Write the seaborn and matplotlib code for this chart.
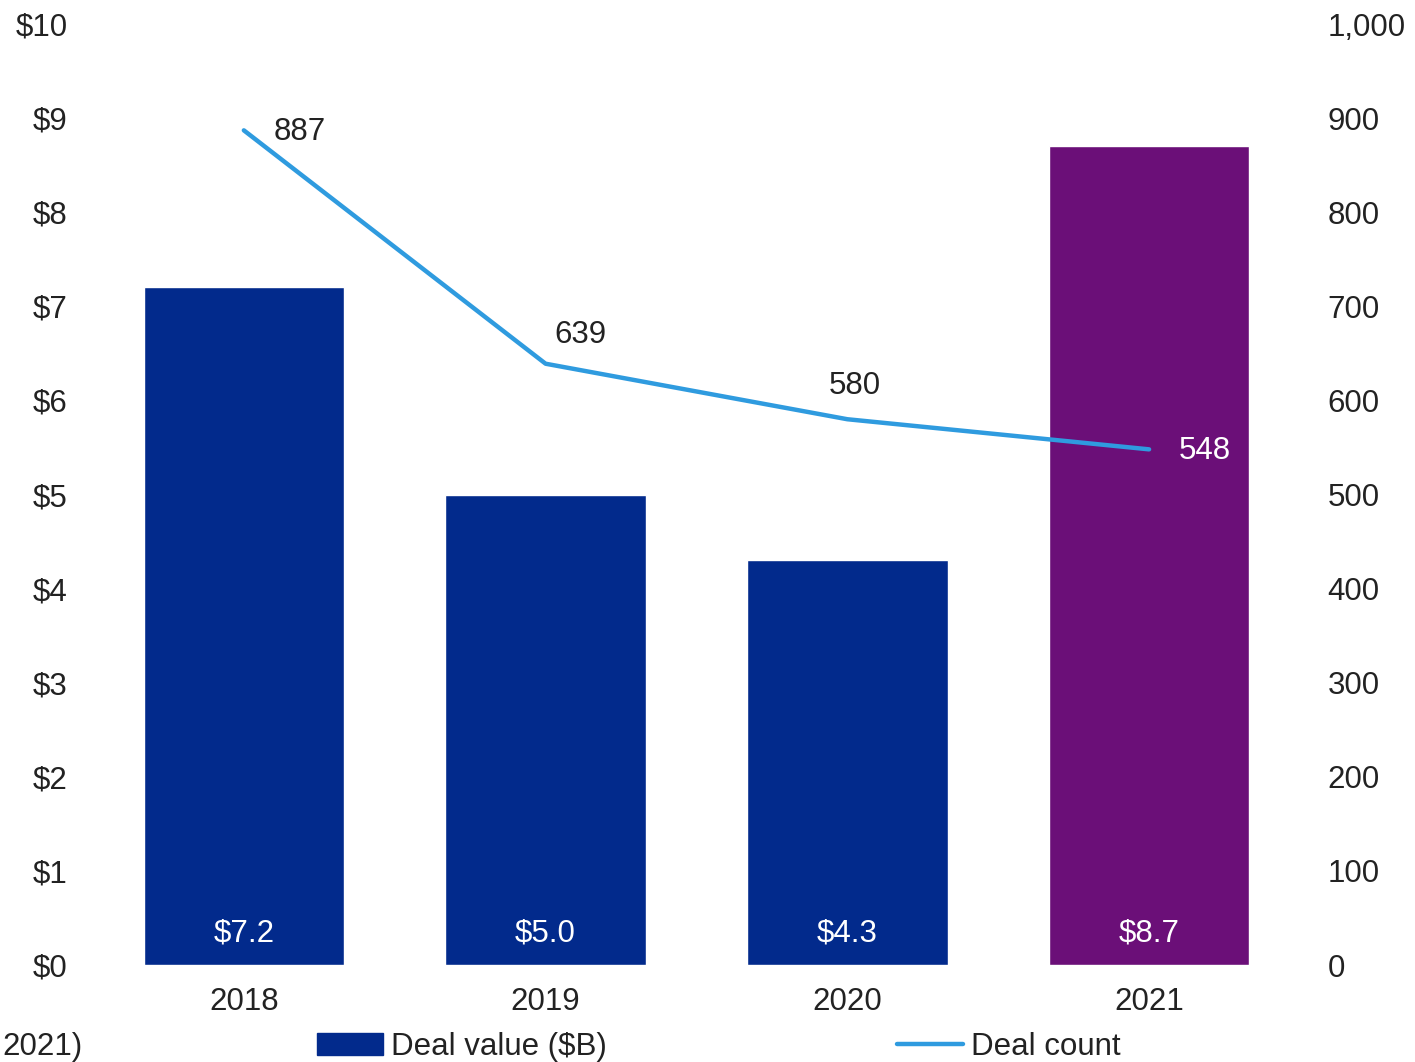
import matplotlib
matplotlib.use("Agg")
import matplotlib.pyplot as plt
import seaborn as sns
import pandas as pd
from matplotlib.patches import Patch
from matplotlib.lines import Line2D

years = ["2018", "2019", "2020", "2021"]
deal_value = [7.2, 5.0, 4.3, 8.7]
deal_count = [887, 639, 580, 548]
value_labels = ["$7.2", "$5.0", "$4.3", "$8.7"]
left_ticks = [0, 1, 2, 3, 4, 5, 6, 7, 8, 9, 10]
right_ticks = [0, 100, 200, 300, 400, 500, 600, 700, 800, 900, 1000]

navy = "#022A8C"
purple = "#6B0F78"
line_c = "#2F9BDF"
bar_colors = [navy, navy, navy, purple]
FS = 22.5

sns.set_theme(style="white")
plt.rcParams["font.family"] = ["Liberation Sans", "DejaVu Sans"]

df = pd.DataFrame({"year": years, "value": deal_value, "count": deal_count})

fig = plt.figure(figsize=(14.15, 10.62), dpi=100)
ax = fig.add_axes([0.0657, 0.0913, 0.853, 0.8861])
sns.barplot(data=df, x="year", y="value", hue="year", palette=bar_colors,
            width=0.665, legend=False, ax=ax, saturation=1)
ax.set_ylim(0, 10)
ax.set_xlim(-0.5, 3.5)
ax.set_yticks(left_ticks)
ax.set_yticklabels([f"${t}" for t in left_ticks])
ax.set_xlabel("")
ax.set_ylabel("")
for s in ax.spines.values():
    s.set_visible(False)
ax.tick_params(axis="y", length=0, pad=18, labelsize=FS, labelcolor="#222222")
ax.tick_params(axis="x", length=0, pad=16, labelsize=FS, labelcolor="#222222")

for i, lab in enumerate(value_labels):
    ax.text(i, 0.33, lab, color="white", ha="center", va="center", fontsize=FS)

ax2 = ax.twinx()
sns.lineplot(x=list(range(len(years))), y=deal_count, ax=ax2, color=line_c, linewidth=3.2)
ax2.set_ylim(0, 1000)
ax2.set_xlim(-0.5, 3.5)
ax2.set_yticks(right_ticks)
ax2.set_yticklabels([f"{t:,}" for t in right_ticks])
for s in ax2.spines.values():
    s.set_visible(False)
ax2.tick_params(axis="y", length=0, pad=20, labelsize=FS, labelcolor="#222222")
ax2.set_ylabel("")

offsets = [(0.185, -2, "#222222"), (0.115, 31, "#222222"), (0.025, 35, "#222222"), (0.185, -2, "white")]
for i, (dx, dy, c) in enumerate(offsets):
    ax2.text(i + dx, deal_count[i] + dy, str(deal_count[i]), ha="center", va="center",
             fontsize=FS, color=c)

handles = [Patch(facecolor=navy, edgecolor=navy, label="Deal value ($B)"),
           Line2D([0], [0], color=line_c, linewidth=3.2, label="Deal count")]
fig.legend(handles=handles, loc="center", bbox_to_anchor=(0.508, 0.014), ncol=2,
           frameon=False, fontsize=FS, handlelength=2.1, handletextpad=0.25,
           columnspacing=9.3, labelcolor="#222222", borderpad=0, borderaxespad=0)

fig.text(0.002, 0.0, "2021)", fontsize=FS, color="#222222", ha="left", va="bottom")

fig.savefig("out.png", dpi=100)
